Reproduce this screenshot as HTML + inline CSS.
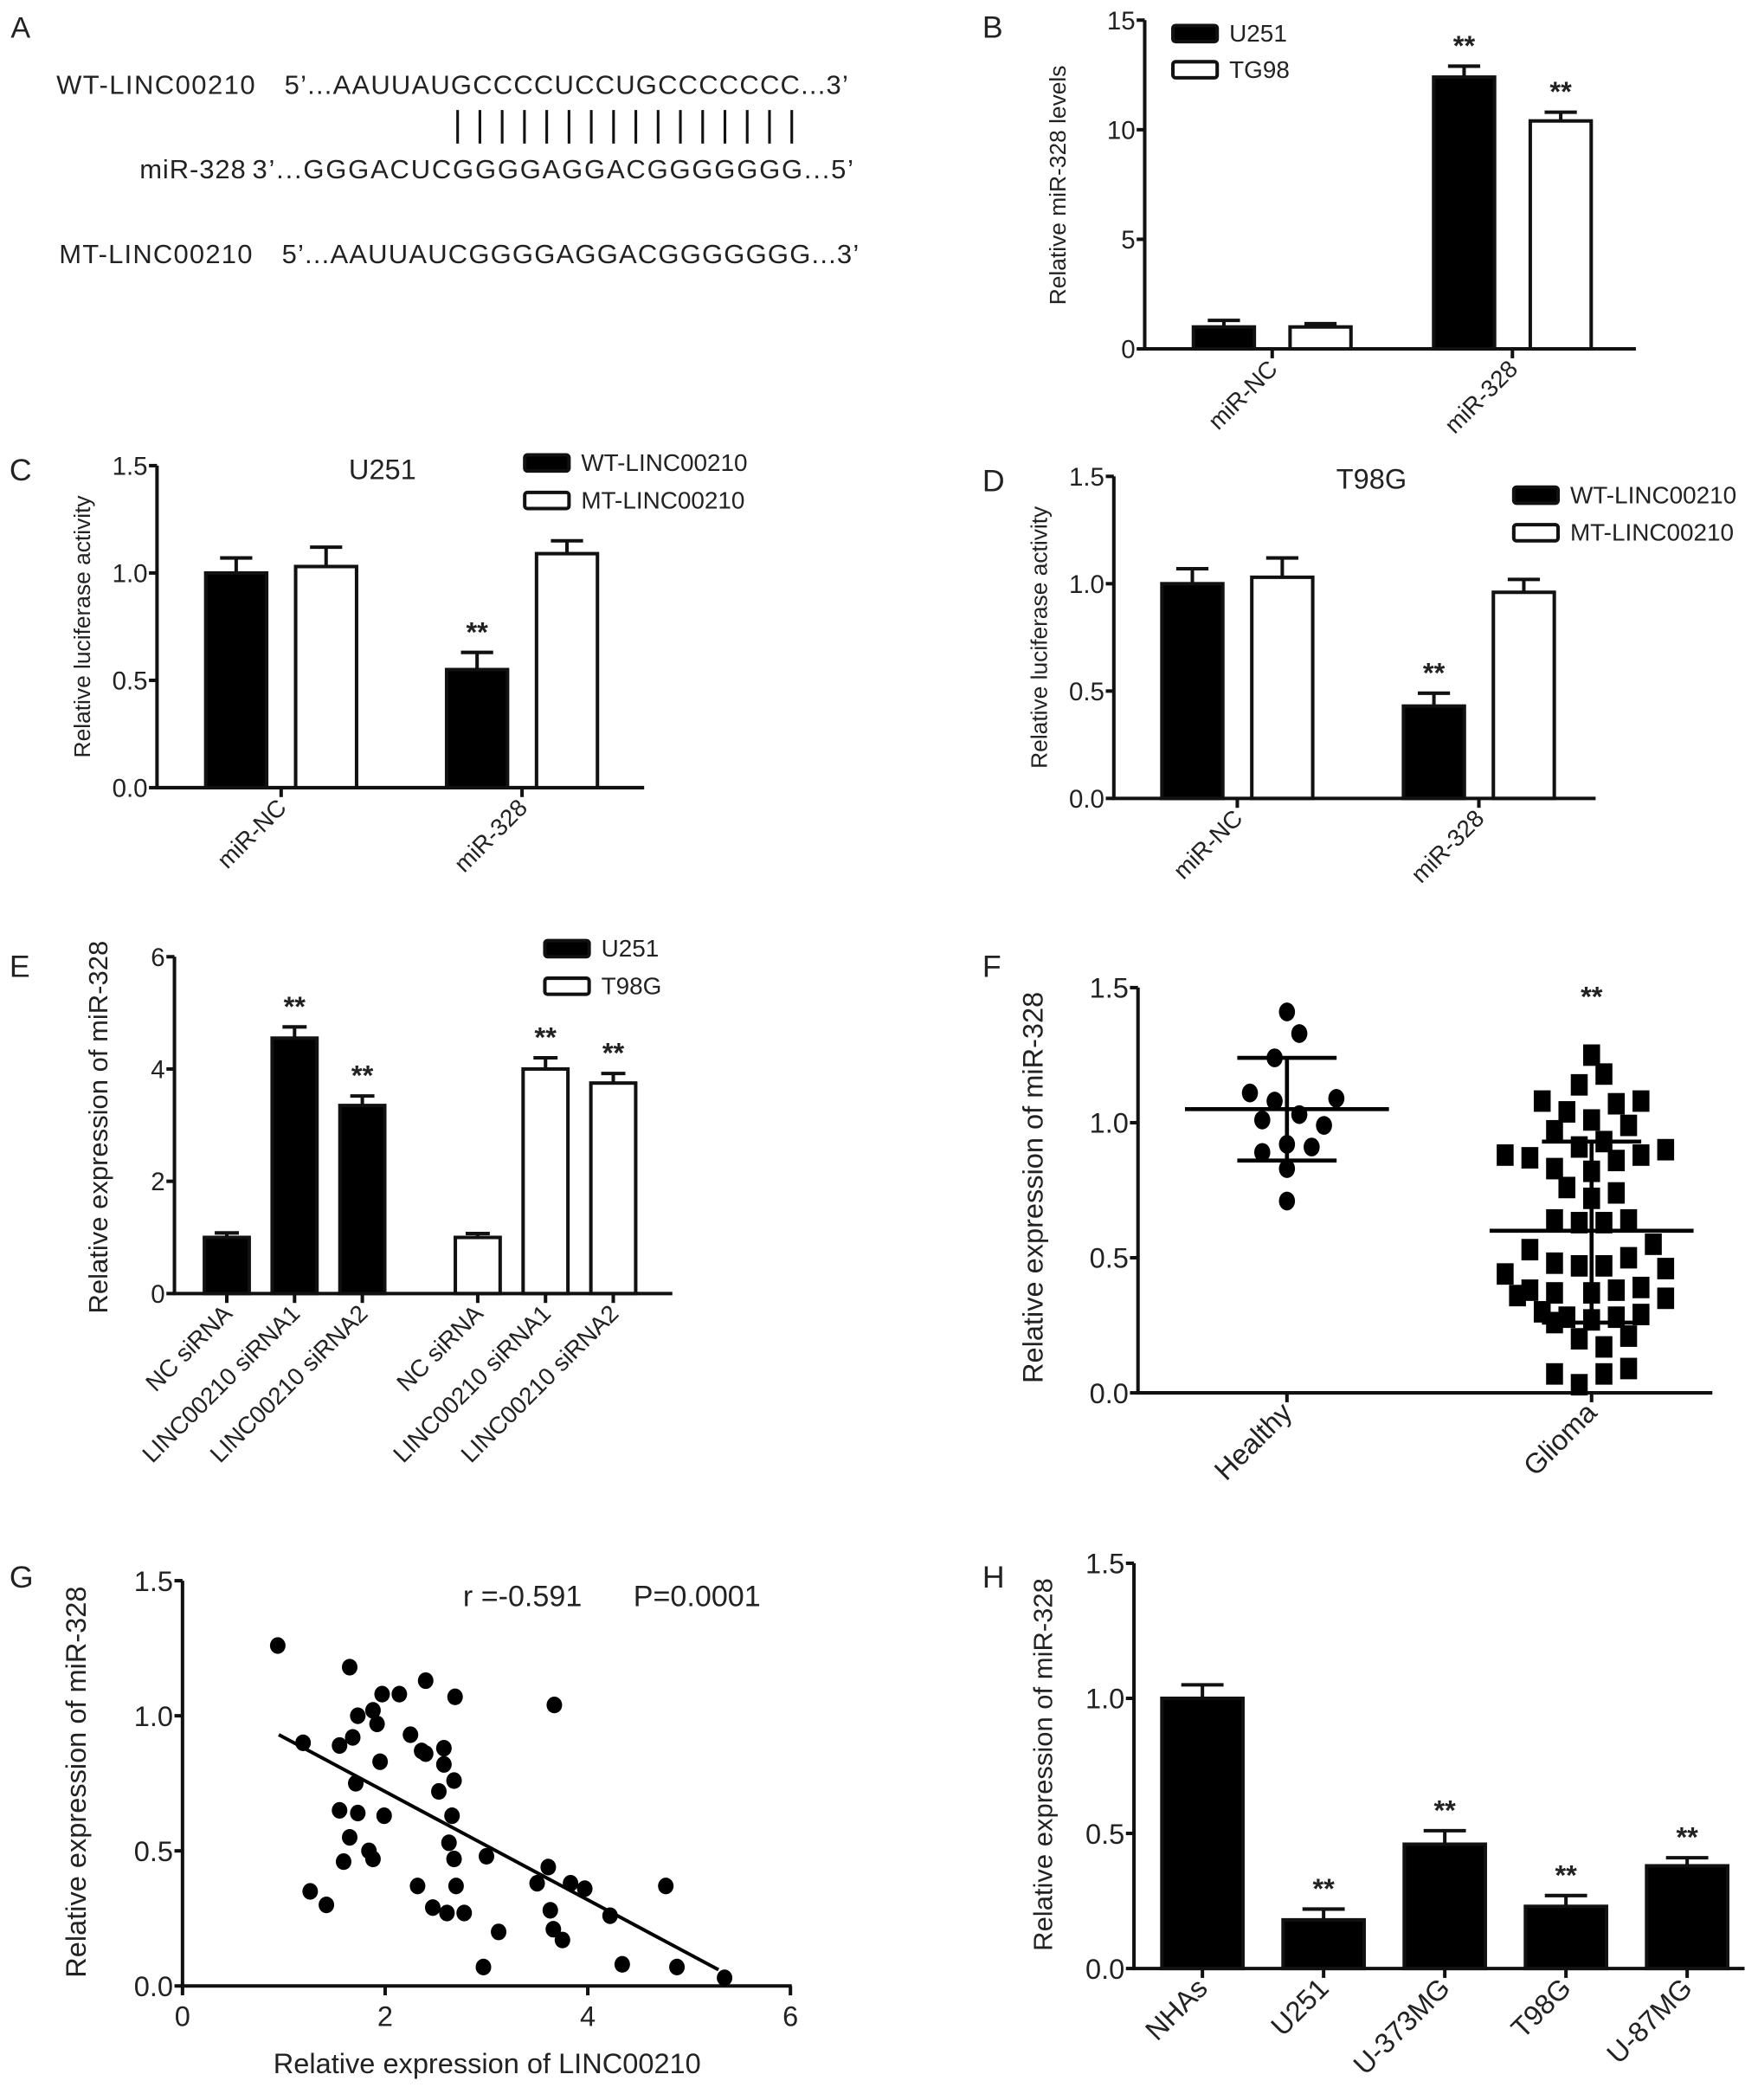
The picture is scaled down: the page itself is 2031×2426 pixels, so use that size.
<!DOCTYPE html>
<html><head><meta charset="utf-8"><style>
html,body{margin:0;padding:0;background:#fff;}
svg{display:block;font-family:"Liberation Sans",Arial,Helvetica,sans-serif;}
text{fill:#222;}
</style></head><body>
<svg id="fig" width="2031" height="2426" viewBox="0 0 1310 1565" preserveAspectRatio="none" xmlns="http://www.w3.org/2000/svg">
<g font-size="20">
<text x="8" y="28" font-size="22">A</text>
<text x="42" y="70" textLength="148">WT-LINC00210</text>
<text x="212" y="70" textLength="420">5’...AAUUAUGCCCCUCCUGCCCCCCC...3’</text>
<g id="pairs"></g>
<text x="104" y="133" textLength="79">miR-328</text>
<text x="188" y="133" textLength="448">3’...GGGACUCGGGGAGGACGGGGGGG...5’</text>
<text x="44" y="196" textLength="144">MT-LINC00210</text>
<text x="210" y="196" textLength="430">5’...AAUUAUCGGGGAGGACGGGGGGG...3’</text>
</g>
</svg>
<script>
// ---------- data ----------
const bCats=["miR-NC","miR-328"];
const bU251=[1.0,12.4], bU251Err=[0.3,0.5];
const bTG98=[1.0,10.4], bTG98Err=[0.15,0.4];
const bStars=[[false,true],[false,true]];
const cCats=["miR-NC","miR-328"];
const cWT=[1.0,0.55], cWTErr=[0.07,0.08];
const cMT=[1.03,1.09], cMTErr=[0.09,0.06];
const dCats=["miR-NC","miR-328"];
const dWT=[1.0,0.43], dWTErr=[0.07,0.06];
const dMT=[1.03,0.96], dMTErr=[0.09,0.06];
const eCats=["NC siRNA","LINC00210 siRNA1","LINC00210 siRNA2"];
const eU251=[1.0,4.55,3.35], eU251Err=[0.08,0.2,0.17];
const eT98G=[1.0,4.0,3.75], eT98GErr=[0.07,0.2,0.17];
const fHealthy=[1.41,1.33,1.24,1.11,1.09,1.08,1.03,1.01,0.99,0.92,0.91,0.89,0.83,0.71];
const fHealthyJit=[0,1,-1,-3,4,-1,1,-2,3,0,2,-2,0,0];
const fGlioma=[1.25,1.18,1.14,1.08,1.08,1.07,1.04,1.01,0.99,0.97,0.93,0.91,0.88,0.90,0.88,0.87,0.86,0.83,0.82,0.76,0.74,0.72,0.64,0.64,0.63,0.63,0.55,0.53,0.50,0.48,0.47,0.47,0.46,0.44,0.38,0.37,0.37,0.38,0.39,0.35,0.36,0.30,0.28,0.26,0.27,0.28,0.29,0.20,0.21,0.17,0.07,0.07,0.09,0.03];
const fGliomaJit=[0,1,-1,-4,4,2,-2,0,3,-3,1,-1,-7,6,4,-5,2,-3,0,-2,2,0,-3,3,-1,1,5,-5,3,-3,-1,1,6,-7,-5,-3,0,2,4,6,-6,-4,-2,-3,0,2,4,-1,3,1,-3,1,3,-1];
const fStats={healthy:[1.05,1.24,0.86],glioma:[0.60,0.93,0.26]};
const gX=[0.94,1.65,2.40,1.97,2.14,2.69,3.67,1.88,1.73,1.92,2.25,1.68,1.19,1.55,2.58,2.36,2.40,2.58,1.95,2.68,1.71,2.53,1.55,1.73,1.99,2.66,1.65,2.63,1.84,1.88,1.59,2.68,3.00,3.61,3.50,3.83,3.97,4.77,1.26,2.32,2.70,1.42,2.47,2.61,2.78,3.63,4.22,3.12,3.66,3.75,2.97,4.34,4.88,5.35];
const gY=[1.26,1.18,1.13,1.08,1.08,1.07,1.04,1.02,1.00,0.97,0.93,0.92,0.90,0.89,0.88,0.87,0.86,0.82,0.83,0.76,0.75,0.72,0.65,0.64,0.63,0.63,0.55,0.53,0.50,0.47,0.46,0.47,0.48,0.44,0.38,0.38,0.36,0.37,0.35,0.37,0.37,0.30,0.29,0.27,0.27,0.28,0.26,0.20,0.21,0.17,0.07,0.08,0.07,0.03];
const gFit=[[0.95,0.93],[5.29,0.06]];
const hCats=["NHAs","U251","U-373MG","T98G","U-87MG"];
const hVals=[1.0,0.18,0.46,0.23,0.38], hErr=[0.05,0.04,0.05,0.04,0.03];
const hStars=[false,true,true,true,true];
const lucTicks=["0.0","0.5","1.0","1.5"], lucTickVals=[0,0.5,1,1.5];

// ---------- helpers ----------
const NS="http://www.w3.org/2000/svg", svg=document.getElementById('fig');
function mk(tag,attrs,parent){const e=document.createElementNS(NS,tag);for(const k in attrs)e.setAttribute(k,attrs[k]);(parent||svg).appendChild(e);return e;}
function txt(s,attrs,parent){const e=mk('text',attrs,parent);e.textContent=s;return e;}
const SW=2.6;

const pg=document.getElementById('pairs');
for(let i=0;i<16;i++){const l=mk('line',{x1:341+i*16.6,x2:341+i*16.6,y1:82,y2:107,stroke:'#111','stroke-width':2},pg);

}

function axes(p){
  const g=mk('g',{});
  
  
  const y=v=>p.y0-(v-p.ymin)/(p.ymax-p.ymin)*(p.y0-p.yTop);
  const yl=mk('line',{x1:p.x0,x2:p.x0,y1:p.yTop,y2:p.y0,stroke:'#111','stroke-width':SW},g);
  
  
  const xl=mk('line',{x1:p.x0-1,x2:p.xEnd,y1:p.y0,y2:p.y0,stroke:'#111','stroke-width':SW},g);
  
  
  p.tickVals.forEach((v,i)=>{
    mk('line',{x1:p.x0-6,x2:p.x0,y1:y(v),y2:y(v),stroke:'#111','stroke-width':SW},g);
    const t=txt(p.tickLabels[i],{x:p.x0-7,y:y(v)+p.fs*0.36,'text-anchor':'end','font-size':p.fs,fill:'#333'},g);
    
    
  });
  const yt=txt(p.ytitle,{x:0,y:0,'text-anchor':'middle','font-size':p.tfs,transform:`translate(${p.tx},${p.ty}) rotate(-90)`},g);
  
  
  const pl=txt(p.letter,{x:p.lx,y:p.ly,'font-size':23},g);
  
  
  return {g,y};
}
function xcat(g,x,y0,label,fs){
  mk('line',{x1:x,x2:x,y1:y0,y2:y0+7,stroke:'#111','stroke-width':SW},g);
  const t=txt(label,{x:0,y:0,'text-anchor':'end','font-size':fs,transform:`translate(${x+5},${y0+16}) rotate(-45)`},g);
  
  
}
function bar(g,y,cx,w,v,err,fill,star){
  const top=y(v), base=y(0), et=y(v+err);
  mk('line',{x1:cx,x2:cx,y1:top,y2:et,stroke:'#111','stroke-width':SW},g);
  mk('line',{x1:cx-w/4,x2:cx+w/4,y1:et,y2:et,stroke:'#111','stroke-width':SW},g);
  const r=mk('rect',{x:cx-w/2+1.3,y:top,width:w-2.6,height:base-top,fill:fill,stroke:'#111','stroke-width':SW},g);
  
  
  if(star){const s=txt('**',{x:cx,y:et-8,'text-anchor':'middle','font-size':21,'font-weight':'bold'},g);
    
    }
}
function legend(g,x,y,label,fill){
  const r=mk('rect',{x:x,y:y,width:33,height:12,rx:2,fill:fill,stroke:'#111','stroke-width':SW},g);
  
  
  const t=txt(label,{x:x+42,y:y+12,'font-size':18},g);
  
  
}

(function(){
  const p={name:'panel-b',x0:853,y0:260,yTop:15,xEnd:1219,ymin:0,ymax:15,tickVals:[0,5,10,15],tickLabels:["0","5","10","15"],fs:19,tfs:17,ytitle:'Relative miR-328 levels',tx:794,ty:138,letter:'B',lx:732,ly:28};
  const {g,y}=axes(p);
  bCats.forEach((c,i)=>{const gc=948+i*179;
    bar(g,y,gc-36,48,bU251[i],bU251Err[i],'#000',bStars[0][i]);
    bar(g,y,gc+36,48,bTG98[i],bTG98Err[i],'#fff',bStars[1][i]);
    xcat(g,gc,p.y0,c,18);});
  legend(g,874,19,'U251','#000');legend(g,874,46,'TG98','#fff');
})();
(function(){
  const p={name:'panel-c',x0:117,y0:587,yTop:347,xEnd:480,ymin:0,ymax:1.5,tickVals:lucTickVals,tickLabels:lucTicks,fs:19,tfs:17,ytitle:'Relative luciferase activity',tx:67,ty:467,letter:'C',lx:7,ly:358};
  const {g,y}=axes(p);
  cCats.forEach((c,i)=>{const gc=209.5+i*179.5;
    bar(g,y,gc-33.5,48,cWT[i],cWTErr[i],'#000',i===1);
    bar(g,y,gc+33.5,48,cMT[i],cMTErr[i],'#fff',false);
    xcat(g,gc,p.y0,c,18);});
  const t=txt('U251',{x:285,y:357,'font-size':21,'text-anchor':'middle'},g);
  
  
  legend(g,391,339,'WT-LINC00210','#000');legend(g,391,367,'MT-LINC00210','#fff');
})();
(function(){
  const p={name:'panel-d',x0:830,y0:595,yTop:355,xEnd:1189,ymin:0,ymax:1.5,tickVals:lucTickVals,tickLabels:lucTicks,fs:19,tfs:17,ytitle:'Relative luciferase activity',tx:780,ty:475,letter:'D',lx:732,ly:366};
  const {g,y}=axes(p);
  dCats.forEach((c,i)=>{const gc=922+i*180;
    bar(g,y,gc-33.5,48,dWT[i],dWTErr[i],'#000',i===1);
    bar(g,y,gc+33.5,48,dMT[i],dMTErr[i],'#fff',false);
    xcat(g,gc,p.y0,c,18);});
  const t=txt('T98G',{x:1022,y:364,'font-size':21,'text-anchor':'middle'},g);
  
  
  legend(g,1128,363,'WT-LINC00210','#000');legend(g,1128,391,'MT-LINC00210','#fff');
})();
(function(){
  const p={name:'panel-e',x0:130,y0:964,yTop:713,xEnd:501,ymin:0,ymax:6,tickVals:[0,2,4,6],tickLabels:["0","2","4","6"],fs:19,tfs:20,ytitle:'Relative expression of miR-328',tx:80,ty:840,letter:'E',lx:7,ly:728};
  const {g,y}=axes(p);
  eCats.forEach((c,i)=>{
    bar(g,y,169+i*50.5,36,eU251[i],eU251Err[i],'#000',i>0);
    xcat(g,169+i*50.5,p.y0,c,18);
    bar(g,y,356+i*50.5,36,eT98G[i],eT98GErr[i],'#fff',i>0);
    xcat(g,356+i*50.5,p.y0,c,18);});
  legend(g,406,701,'U251','#000');legend(g,406,729,'T98G','#fff');
})();
(function(){
  const p={name:'panel-f',x0:848,y0:1038,yTop:736,xEnd:1276,ymin:0,ymax:1.5,tickVals:lucTickVals,tickLabels:lucTicks,fs:21,tfs:21,ytitle:'Relative expression of miR-328',tx:777,ty:885,letter:'F',lx:732,ly:728};
  const {g,y}=axes(p);
  const cx=[959,1186], step=9.2;
  fHealthy.forEach((v,i)=>{const c=mk('ellipse',{cx:cx[0]+fHealthyJit[i]*step,cy:y(v),rx:6,ry:7,fill:'#000'},g);
    
    });
  fGlioma.forEach((v,i)=>{const r=mk('rect',{x:cx[1]+fGliomaJit[i]*step-6.3,y:y(v)-8,width:12.6,height:16,fill:'#000'},g);
    
    });
  [fStats.healthy,fStats.glioma].forEach((s,i)=>{
    mk('line',{x1:cx[i]-76,x2:cx[i]+76,y1:y(s[0]),y2:y(s[0]),stroke:'#000','stroke-width':3},g);
    mk('line',{x1:cx[i],x2:cx[i],y1:y(s[1]),y2:y(s[2]),stroke:'#000','stroke-width':3},g);
    mk('line',{x1:cx[i]-37,x2:cx[i]+37,y1:y(s[1]),y2:y(s[1]),stroke:'#000','stroke-width':3},g);
    mk('line',{x1:cx[i]-37,x2:cx[i]+37,y1:y(s[2]),y2:y(s[2]),stroke:'#000','stroke-width':3},g);
  });
  xcat(g,cx[0],p.y0,'Healthy',21);xcat(g,cx[1],p.y0,'Glioma',21);
  const s=txt('**',{x:cx[1],y:750,'text-anchor':'middle','font-size':21,'font-weight':'bold'},g);
  
  
})();
(function(){
  const p={name:'panel-g',x0:136,y0:1480,yTop:1178,xEnd:590,ymin:0,ymax:1.5,tickVals:lucTickVals,tickLabels:lucTicks,fs:21,tfs:21,ytitle:'Relative expression of miR-328',tx:64,ty:1328,letter:'G',lx:7,ly:1183};
  const {g,y}=axes(p);
  const x=v=>136+v/6*453;
  [0,2,4,6].forEach(v=>{mk('line',{x1:x(v),x2:x(v),y1:p.y0,y2:p.y0+7,stroke:'#111','stroke-width':SW},g);
    const t=txt(String(v),{x:x(v),y:p.y0+30,'text-anchor':'middle','font-size':21,fill:'#333'},g);
    
    });
  const xt=txt('Relative expression of LINC00210',{x:363,y:1545,'text-anchor':'middle','font-size':21},g);
  
  
  gX.forEach((v,i)=>{const c=mk('ellipse',{cx:x(v),cy:y(gY[i]),rx:5.8,ry:6.2,fill:'#000'},g);
    
    });
  const fl=mk('line',{x1:x(gFit[0][0]),y1:y(gFit[0][1]),x2:x(gFit[1][0]),y2:y(gFit[1][1]),stroke:'#000','stroke-width':2.6},g);
  
  
  const st=txt('r =-0.591',{x:345,y:1197,'font-size':22},g);
  
  
  const sp=txt('P=0.0001',{x:472,y:1197,'font-size':22},g);
  
  
})();
(function(){
  const p={name:'panel-h',x0:845,y0:1467,yTop:1165,xEnd:1300,ymin:0,ymax:1.5,tickVals:lucTickVals,tickLabels:lucTicks,fs:21,tfs:20,ytitle:'Relative expression of miR-328',tx:784,ty:1315,letter:'H',lx:732,ly:1183};
  const {g,y}=axes(p);
  hCats.forEach((c,i)=>{const cx=896+i*90.3;
    bar(g,y,cx,63,hVals[i],hErr[i],'#000',hStars[i]);
    xcat(g,cx,p.y0,c,21);});
})();
</script>
</body></html>
